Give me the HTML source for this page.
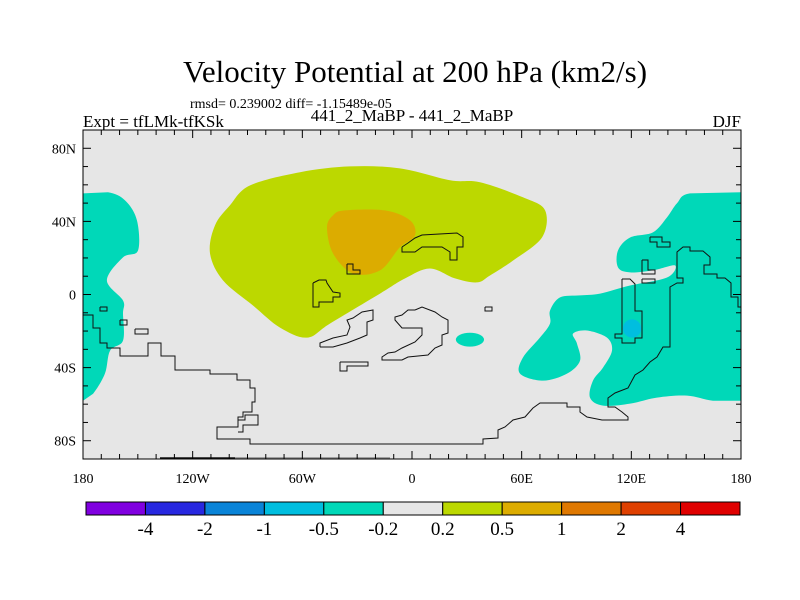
<!DOCTYPE html>
<html><head><meta charset="utf-8"><style>
body{margin:0;background:#fff;}
svg{display:block;font-family:"Liberation Serif",serif;}
</style></head><body>
<svg id="chart" width="800" height="600">
<text x="415" y="82" font-size="31" text-anchor="middle">Velocity Potential at 200 hPa (km2/s)</text>
<text x="190" y="108" font-size="14">rmsd= 0.239002 diff= -1.15489e-05</text>
<text x="83" y="127" font-size="17">Expt = tfLMk-tfKSk</text>
<text x="412" y="121" font-size="17" text-anchor="middle">441_2_MaBP - 441_2_MaBP</text>
<text x="741" y="127" font-size="17" text-anchor="end">DJF</text>
<g id="map"></g>
<g id="cbar"></g>
</svg>
<script>
const levelLabels=["-4","-2","-1","-0.5","-0.2","0.2","0.5","1","2","4"];
const levelColors=["#8000e0","#2828e0","#0a84d8","#00bedf","#00d8b8","#e6e6e6","#bcd800","#dcac00","#df7800","#df4000","#df0000"];
const xTickLabels=["180","120W","60W","0","60E","120E","180"];
const xTickLons=[-180,-120,-60,0,60,120,180];
const yTickLabels=["80N","40N","0","40S","80S"];
const yTickLats=[80,40,0,-40,-80];
const greenLon=[-110.5,-107.8,-99.6,-88.6,-61.3,-33.9,-6.6,20.8,37.2,60.7,72.8,71.1,55.3,42.7,35.6,23.5,9.8,-3.8,-17.5,-44.9,-57.4,-72.2,-87.0,-103.4];
const greenLat=[22.5,37.8,48.8,59.7,66.9,70.1,69.0,62.5,61.4,53.2,46.0,31.2,18.6,10.4,6.6,8.8,14.2,8.8,0.5,-15.9,-23.6,-18.1,-6.0,7.7];
const orangeLon=[-46.5,-43.2,-36.7,-14.8,-1.1,1.6,-6.6,-17.5,-32.3,-43.2];
const orangeLat=[36.7,43.3,46.0,46.0,40.6,32.3,25.8,13.2,11.5,22.5];
const cyanWLon=[-180,-166.3,-157.0,-150.5,-149.9,-158.1,-166.9,-158.1,-158.1,-158.1,-165.2,-168.0,-174.5,-180];
const cyanWLat=[55.3,55.9,51.5,40.6,24.1,20.3,7.7,-3.3,-10.4,-25.2,-30.7,-43.3,-54.3,-58.1];
const cyanELon=[180,152.1,145.0,139.5,131.8,119.3,112.7,112.7,119.3,131.8,143.9,139.5,119.3,102.9,91.9,81.0,75.5,75.5,70.0,60.7,59.1,71.7,84.8,91.9,90.3,88.1,95.7,106.7,109.4,104.5,99.0,97.4,104.5,119.3,134.0,150.5,164.7,180];
const cyanELat=[55.9,55.3,49.9,42.2,34.0,31.2,24.1,14.8,12.1,13.2,15.9,9.3,4.9,0.5,-0.5,-1.6,-8.8,-15.9,-23.6,-34.5,-43.3,-47.1,-43.3,-36.2,-26.9,-21.4,-19.7,-23.6,-30.7,-40.0,-47.1,-56.4,-60.8,-59.7,-56.4,-55.3,-58.1,-58.1];
const blobLon=[31.7,120.4], blobLat=[-24.7,-18.6], blobRLon=[7.7,5], blobRLat=[3.8,5], blobLevel=[4,3];

const X0=83,X1=741,Y0=130,Y1=459;
const xs=lon=>X0+(lon+180)/360*(X1-X0);
const ys=lat=>Y0+(90-lat)/180*(Y1-Y0);
const NS="http://www.w3.org/2000/svg";
function mk(tag,attrs,parent){const e=document.createElementNS(NS,tag);for(const k in attrs)e.setAttribute(k,attrs[k]);parent.appendChild(e);return e;}
const map=document.getElementById('map');
const clip=mk('clipPath',{id:"mapclip"},mk('defs',{},map));
mk('rect',{x:X0,y:Y0,width:X1-X0,height:Y1-Y0},clip);
const bg=mk('rect',{x:X0,y:Y0,width:X1-X0,height:Y1-Y0,fill:"#e6e6e6"},map);


const fills=mk('g',{"clip-path":"url(#mapclip)"},map);
function smoothPath(pts){
  const n=pts.length;let d="M"+pts[0][0].toFixed(1)+","+pts[0][1].toFixed(1);
  for(let i=0;i<n;i++){
    const p0=pts[(i-1+n)%n],p1=pts[i],p2=pts[(i+1)%n],p3=pts[(i+2)%n];
    if(p1.edge||p2.edge){d+="L"+p2[0].toFixed(1)+","+p2[1].toFixed(1);continue;}
    const c1=[p1[0]+(p2[0]-p0[0])/6,p1[1]+(p2[1]-p0[1])/6],c2=[p2[0]-(p3[0]-p1[0])/6,p2[1]-(p3[1]-p1[1])/6];
    d+="C"+c1[0].toFixed(1)+","+c1[1].toFixed(1)+" "+c2[0].toFixed(1)+","+c2[1].toFixed(1)+" "+p2[0].toFixed(1)+","+p2[1].toFixed(1);
  }
  return d+"Z";
}
function poly(lons,lats,color,name){
  const pts=lons.map((l,i)=>{
    const onEdge=Math.abs(l)>=180;
    const p=[xs(l),ys(lats[i])];
    p.edge=onEdge;return p;});
  const e=mk('path',{d:smoothPath(pts),fill:color},fills);
  
  
}
poly(greenLon,greenLat,levelColors[6],'contour-positive-0.2');
poly(orangeLon,orangeLat,levelColors[7],'contour-positive-0.5');
poly(cyanWLon,cyanWLat,levelColors[4],'contour-negative-west');
poly(cyanELon,cyanELat,levelColors[4],'contour-negative-east');
blobLon.forEach((l,i)=>{
  const e=mk('ellipse',{cx:xs(l),cy:ys(blobLat[i]),rx:blobRLon[i]/360*(X1-X0),ry:blobRLat[i]/180*(Y1-Y0),fill:levelColors[blobLevel[i]]},fills);
  
  
});
const coasts=[
"83,315 93,315 93,328 100,328 100,343 107,343 107,348 120,348 120,356 148,356 148,343 161,343 161,356 175,356 175,370 210,370 210,374 237,374 237,380 250,380 250,388 255,388 255,402 252,402 252,412 243,412 243,417 238,417 238,427 217,427 217,439 250,439 250,444 483,444 483,439 498,438 498,430 505,427 513,420 525,417 533,408 540,403 567,403 567,407 580,407 580,412 587,417 602,420 628,420 628,417 622,412 615,407 608,407 608,398 615,393 628,388 635,375 643,370 650,362 657,357 663,347 670,347 670,287 677,283 683,283 683,278 677,278 677,252 683,247 690,247 690,251 703,251 710,257 710,265 704,265 704,274 717,274 717,278 725,278 731,283 731,297 738,297 738,307 741,307",
"238,427 238,420 245,420 245,415 258,415 258,425 243,425 243,432 238,432",
"415,310 422,307 435,312 442,317 448,320 448,333 442,335 442,345 435,348 428,355 408,357 402,360 382,360 382,357 388,353 395,352 402,348 415,342 422,335 422,328 402,328 395,320 395,317 402,315 408,310 415,310",
"320,347 320,343 333,338 347,335 350,327 347,320 353,318 362,312 373,310 373,320 367,322 367,335 360,338 347,343 333,347 320,347",
"340,362 368,362 368,366 347,366 347,371 340,371 340,362",
"313,283 319,280 326,280 327,283 333,292 340,293 340,297 333,297 333,302 319,302 319,307 313,307 313,283",
"347,264 353,264 353,270 360,270 360,274 347,274 347,264",
"402,247 408,243 415,238 422,235 457,233 463,237 463,247 457,247 457,260 450,260 450,252 442,247 422,247 415,252 402,252 402,247",
"485,307 492,307 492,311 485,311 485,307","100,307 107,307 107,311 100,311 100,307","120,320 127,320 127,325 120,325 120,320","135,329 148,329 148,334 135,334 135,329",
"650,237 662,237 662,242 670,242 670,247 657,247 657,242 650,242 650,237","642,260 648,260 648,270 655,270 655,274 642,274 642,260","642,279 655,279 655,283 642,283 642,279",
"622,279 630,279 635,284 635,311 642,311 642,338 635,338 635,343 622,343 622,338 615,338 615,334 622,334 622,279"];
coasts.forEach(c=>{
  const e=mk('polyline',{points:c,fill:"none",stroke:"#111","stroke-width":1},map);
  
  
});
mk('line',{x1:160,y1:458,x2:235,y2:458,stroke:"#111","stroke-width":1.5},map);
mk('line',{x1:235,y1:458,x2:390,y2:458,stroke:"#888","stroke-width":1.5},map);
const fr=mk('rect',{x:X0,y:Y0,width:X1-X0,height:Y1-Y0,fill:"none",stroke:"#000","stroke-width":1},map);


for(let lon=-180;lon<=180;lon+=10){const x=xs(lon),L=lon%60===0?8:5;
  mk('line',{x1:x,y1:Y0,x2:x,y2:Y0+L,stroke:"#000"},map);mk('line',{x1:x,y1:Y1,x2:x,y2:Y1-L,stroke:"#000"},map);}
for(let lat=-90;lat<=90;lat+=10){const y=ys(lat),L=lat%40===0?8:5;
  mk('line',{x1:X0,y1:y,x2:X0+L,y2:y,stroke:"#000"},map);mk('line',{x1:X1,y1:y,x2:X1-L,y2:y,stroke:"#000"},map);}
xTickLabels.forEach((t,i)=>{const e=mk('text',{x:xs(xTickLons[i]),y:483,"font-size":14,"text-anchor":"middle"},map);e.textContent=t;
  
  });
yTickLabels.forEach((t,i)=>{const e=mk('text',{x:76,y:ys(yTickLats[i])+5,"font-size":14,"text-anchor":"end"},map);e.textContent=t;
  
  });
const cb=document.getElementById('cbar');const CB0=86,CB1=740,CBY=502,CBH=13,w=(CB1-CB0)/levelColors.length;
levelColors.forEach((c,i)=>{const r=mk('rect',{x:CB0+i*w,y:CBY,width:w,height:CBH,fill:c,stroke:"#000","stroke-width":1},cb);
  
  });
levelLabels.forEach((t,i)=>{const e=mk('text',{x:CB0+(i+1)*w,y:535,"font-size":19,"text-anchor":"middle"},cb);e.textContent=t;
  
  });
</script>
</body></html>
